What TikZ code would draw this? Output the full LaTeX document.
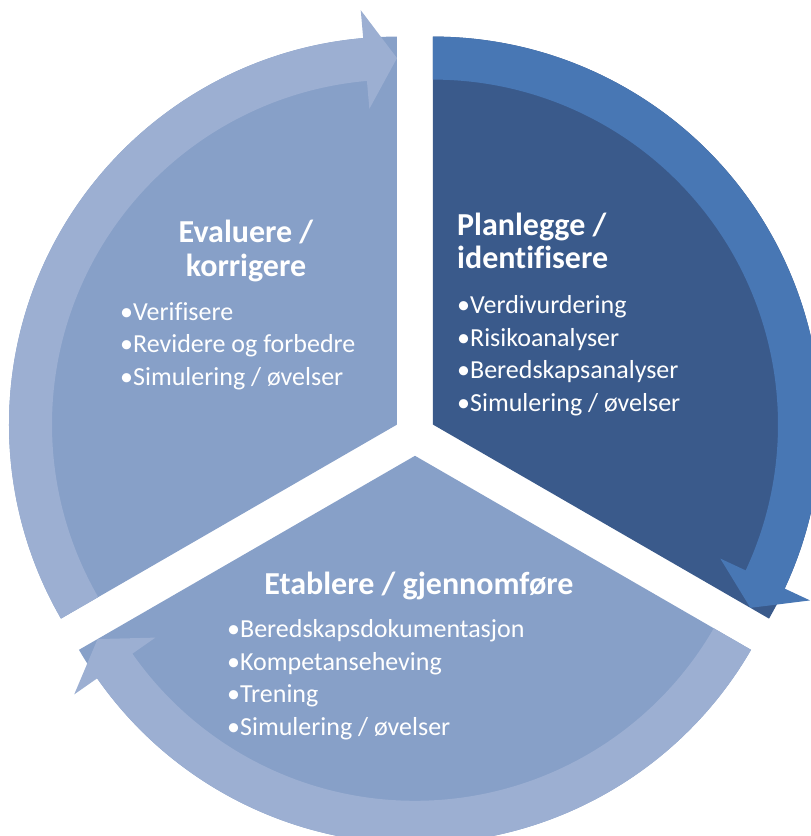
\documentclass[tikz,border=0pt]{standalone}
\usepackage{fontspec}
\setmainfont{Carlito}[Ligatures=NoCommon]
\usepackage{tikz}
\definecolor{sectordark}{RGB}{58,90,139}
\definecolor{banddark}{RGB}{72,119,180}
\definecolor{sectorlight}{RGB}{135,160,200}
\definecolor{bandlight}{RGB}{156,175,210}

\begin{document}
\begin{tikzpicture}[x=1pt, y=1pt,
    title/.style={text=white, inner sep=0pt, font=\fontsize{32}{34}\selectfont\bfseries},
    items/.style={text=white, inner sep=0pt, align=left, anchor=base west, font=\fontsize{26}{32.5}\selectfont}]
    \useasboundingbox (-415,-401) rectangle (396,435);
    \clip (-415,-401) rectangle (396,435);
    % sektorer
    \foreach \dx/\dy/\a/\col in {18/10.4/-30/sectordark, -18/10.4/90/sectorlight, 0/-20.8/210/sectorlight}
        \fill[\col] (\dx,\dy) -- ++(\a:388pt) arc[start angle=\a, delta angle=120, radius=388pt] -- cycle;
    % piler rundt
    \foreach \dx/\dy/\a/\col in {18/10.4/-30/banddark, -18/10.4/90/bandlight, 0/-20.8/210/bandlight}
        {
        \pgfmathsetmacro{\s}{\a+120}
        \pgfmathsetmacro{\e}{\a+5}
        \fill[\col, shift={(\dx,\dy)}] (\s:388pt) arc[start angle=\s, end angle=\e, radius=388pt]
            -- (\e:416pt) -- (\a:366.5pt) -- (\e:317pt) -- (\e:345pt)
            arc[start angle=\e, end angle=\s, radius=345pt] -- cycle;
        }
    % tekst (base = siste linje)
    \node[title, align=left, anchor=base west] (plantitle) at (42,166) {Planlegge /\\identifisere};
    \node[items] (planitems) at (42,24) {•Verdivurdering\\•Risikoanalyser\\•Beredskapsanalyser\\•Simulering / øvelser};
    \node[title, align=center, anchor=base] (evaltitle) at (-169,158) {Evaluere /\\korrigere};
    \node[items] (evalitems) at (-295,50) {•Verifisere\\•Revidere og forbedre\\•Simulering / øvelser};
    \node[title, anchor=base] (etabtitle) at (4,-159) {Etablere / gjennomføre};
    \node[items] (etabitems) at (-188,-300) {•Beredskapsdokumentasjon\\•Kompetanseheving\\•Trening\\•Simulering / øvelser};
\end{tikzpicture}
\end{document}
